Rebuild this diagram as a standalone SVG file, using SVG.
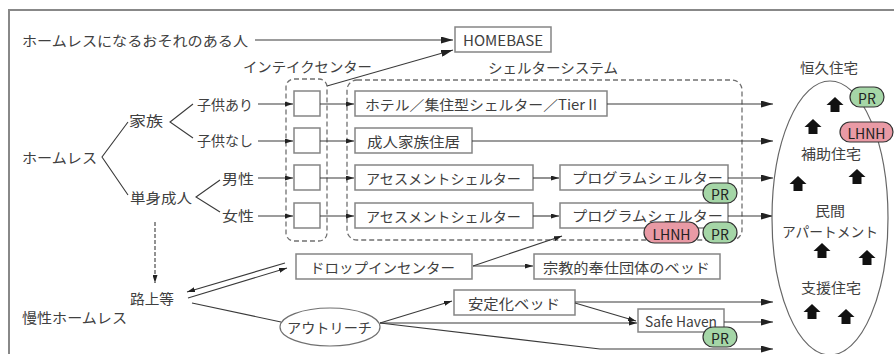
<svg xmlns="http://www.w3.org/2000/svg" xmlns:xlink="http://www.w3.org/1999/xlink" width="894" height="354" viewBox="0 0 894 354">
<defs>
<style>
text{font-family:"Noto Sans CJK JP","Noto Sans",sans-serif;font-size:14px;fill:#404040;dominant-baseline:central;}
.c{text-anchor:middle;}
.box{fill:#fff;stroke:#858585;stroke-width:1.5;}
.dash{fill:none;stroke:#707070;stroke-width:1.3;stroke-dasharray:5 3;}
.ln{fill:none;stroke:#3a3a3a;stroke-width:1.1;}
.big{marker-end:url(#big);}
.sm{marker-end:url(#sm);}
.pr{fill:#a5d6a7;stroke:#333;stroke-width:1.2;}
.lh{fill:#e99aa5;stroke:#333;stroke-width:1.2;}
.bt{fill:#222;font-size:14px;}
</style>
<marker id="big" viewBox="0 0 12 7" refX="12" refY="3.5" markerWidth="12" markerHeight="7" markerUnits="userSpaceOnUse" orient="auto"><path d="M0,0L12,3.5L0,7z" fill="#222"/></marker>
<marker id="sm" viewBox="0 0 8 5" refX="8" refY="2.5" markerWidth="8" markerHeight="5" markerUnits="userSpaceOnUse" orient="auto"><path d="M0,0L8,2.5L0,5z" fill="#222"/></marker>
<path id="house" d="M0,-8L8.5,0L4.5,0L4.5,7L-4.5,7L-4.5,0L-8.5,0z" fill="#111"/>
</defs>
<rect x="9" y="10" width="900" height="360" fill="#fff" stroke="#888" stroke-width="2"/>

<g id="labels-left">
<text x="22" y="40" textLength="226" lengthAdjust="spacingAndGlyphs">ホームレスになるおそれのある人</text>
<text x="22" y="157" textLength="75" lengthAdjust="spacingAndGlyphs">ホームレス</text>
<text x="129" y="120" textLength="34" lengthAdjust="spacingAndGlyphs">家族</text>
<text x="197" y="104" textLength="56" lengthAdjust="spacingAndGlyphs">子供あり</text>
<text x="197" y="140" textLength="56" lengthAdjust="spacingAndGlyphs">子供なし</text>
<text x="130" y="197" textLength="62" lengthAdjust="spacingAndGlyphs">単身成人</text>
<text x="222" y="178" textLength="32" lengthAdjust="spacingAndGlyphs">男性</text>
<text x="222" y="215" textLength="32" lengthAdjust="spacingAndGlyphs">女性</text>
<text x="130" y="298" textLength="44" lengthAdjust="spacingAndGlyphs">路上等</text>
<text x="22" y="317" textLength="105" lengthAdjust="spacingAndGlyphs">慢性ホームレス</text>
<text x="243" y="66" textLength="129" lengthAdjust="spacingAndGlyphs">インテイクセンター</text>
<text x="488" y="67" textLength="130" lengthAdjust="spacingAndGlyphs">シェルターシステム</text>
<text x="800" y="67" textLength="58" lengthAdjust="spacingAndGlyphs">恒久住宅</text>
</g>

<g id="intake-center">
<rect class="dash" x="286" y="79" width="41" height="162" rx="8"/>
<rect class="box" x="294" y="91" width="26" height="25"/>
<rect class="box" x="294" y="128" width="26" height="25"/>
<rect class="box" x="294" y="165" width="26" height="25"/>
<rect class="box" x="294" y="203" width="26" height="25"/>
</g>

<g id="shelter-system">
<rect class="dash" x="347" y="80" width="395" height="160" rx="10"/>
</g>

<g id="homebase"><rect class="box" x="455" y="27" width="96" height="25"/><text class="c" x="503" y="40" textLength="80" lengthAdjust="spacingAndGlyphs">HOMEBASE</text></g>
<g id="hotel"><rect class="box" x="355" y="91" width="252" height="25"/><text x="365" y="103.5" textLength="232" lengthAdjust="spacingAndGlyphs">ホテル／集住型シェルター／Tier II</text></g>
<g id="adult-family"><rect class="box" x="355" y="128" width="117" height="25"/><text x="367" y="140.5" textLength="93" lengthAdjust="spacingAndGlyphs">成人家族住居</text></g>
<g id="assess1"><rect class="box" x="355" y="165" width="178" height="25"/><text x="366" y="177.5" textLength="155" lengthAdjust="spacingAndGlyphs">アセスメントシェルター</text></g>
<g id="assess2"><rect class="box" x="355" y="203" width="178" height="25"/><text x="366" y="215.5" textLength="155" lengthAdjust="spacingAndGlyphs">アセスメントシェルター</text></g>
<g id="program1"><rect class="box" x="560" y="165" width="168" height="25"/><text x="572" y="177" textLength="151" lengthAdjust="spacingAndGlyphs">プログラムシェルター</text></g>
<g id="program2"><rect class="box" x="560" y="203" width="168" height="25"/><text x="572" y="215" textLength="151" lengthAdjust="spacingAndGlyphs">プログラムシェルター</text></g>
<g id="dropin"><rect class="box" x="296" y="254" width="176" height="25"/><text x="310" y="266.5" textLength="145" lengthAdjust="spacingAndGlyphs">ドロップインセンター</text></g>
<g id="religious"><rect class="box" x="534" y="254" width="186" height="25"/><text x="543" y="266.5" textLength="167" lengthAdjust="spacingAndGlyphs">宗教的奉仕団体のベッド</text></g>
<g id="stabilization"><rect class="box" x="454" y="290" width="121" height="25"/><text x="468" y="302.5" textLength="92" lengthAdjust="spacingAndGlyphs">安定化ベッド</text></g>
<g id="safehaven"><rect class="box" x="638" y="309" width="86" height="23"/><text x="645" y="320.5" textLength="72" lengthAdjust="spacingAndGlyphs">Safe Haven</text></g>
<g id="outreach"><ellipse cx="330" cy="327" rx="50" ry="19" fill="#fff" stroke="#707070" stroke-width="1.2"/><text x="287" y="327" textLength="85" lengthAdjust="spacingAndGlyphs">アウトリーチ</text></g>

<g id="connectors">
<path class="ln big" d="M255,40H453"/>
<path class="ln big" d="M327,86L453,50"/>
<path class="ln" d="M128,122L102,157L128,195"/>
<path class="ln" d="M193,104L170,122L193,138"/>
<path class="ln" d="M220,180L196,197L220,212"/>
<path class="ln sm" d="M258,104H293"/>
<path class="ln sm" d="M258,141H293"/>
<path class="ln sm" d="M258,178H293"/>
<path class="ln sm" d="M258,216H293"/>
<path class="ln sm" d="M320,104H354"/>
<path class="ln sm" d="M320,141H354"/>
<path class="ln sm" d="M320,178H354"/>
<path class="ln sm" d="M320,216H354"/>
<path class="ln big" d="M607,104H773"/>
<path class="ln big" d="M472,141H773"/>
<path class="ln big" d="M728,178H773"/>
<path class="ln big" d="M728,216H773"/>
<path class="ln sm" d="M533,178H559"/>
<path class="ln sm" d="M533,216H559"/>
<path class="ln sm" d="M155,222V283" stroke-dasharray="4 2"/>
<path class="ln sm" d="M473,266L562,236"/>
<path class="ln sm" d="M473,266H533"/>
<path class="ln sm" d="M285,263L187,292"/>
<path class="ln sm" d="M188,298L287,268"/>
<path class="ln" d="M192,303L281,322"/>
<path class="ln sm" d="M380,323L452,301"/>
<path class="ln sm" d="M380,323H637"/>
<path class="ln big" d="M380,323L600,349H773"/>
<path class="ln big" d="M575,302H773"/>
<path class="ln sm" d="M575,303L636,321"/>
<path class="ln big" d="M724,322H773"/>
</g>

<g id="permanent-housing">
<ellipse cx="830" cy="218" rx="58" ry="137" fill="#fff" stroke="#666" stroke-width="1.2"/>
<use xlink:href="#house" x="835" y="105"/>
<use xlink:href="#house" x="813" y="127"/>
<use xlink:href="#house" x="798" y="184"/>
<use xlink:href="#house" x="857" y="177"/>
<use xlink:href="#house" x="822" y="251"/>
<use xlink:href="#house" x="867" y="258"/>
<use xlink:href="#house" x="812" y="312"/>
<use xlink:href="#house" x="846" y="317"/>
<text class="c" x="831" y="153" textLength="60" lengthAdjust="spacingAndGlyphs">補助住宅</text>
<text class="c" x="830" y="210" textLength="30" lengthAdjust="spacingAndGlyphs">民間</text>
<text class="c" x="830" y="231" textLength="96" lengthAdjust="spacingAndGlyphs">アパートメント</text>
<text class="c" x="831" y="287" textLength="60" lengthAdjust="spacingAndGlyphs">支援住宅</text>
</g>

<g id="badges">
<rect class="pr" x="850" y="87" width="34" height="20" rx="10"/><text class="c bt" x="867" y="97.5">PR</text>
<rect class="lh" x="840" y="122" width="53" height="20" rx="10"/><text class="c bt" x="866.5" y="132.5">LHNH</text>
<rect class="pr" x="703" y="183" width="34" height="20" rx="10"/><text class="c bt" x="720" y="193.5">PR</text>
<rect class="lh" x="644" y="222" width="55" height="21" rx="10.5"/><text class="c bt" x="671.5" y="233.5">LHNH</text>
<rect class="pr" x="703" y="222" width="34" height="21" rx="10.5"/><text class="c bt" x="720" y="233.5">PR</text>
<rect class="pr" x="703" y="327" width="34" height="20" rx="10"/><text class="c bt" x="720" y="337.5">PR</text>
</g>
</svg>
